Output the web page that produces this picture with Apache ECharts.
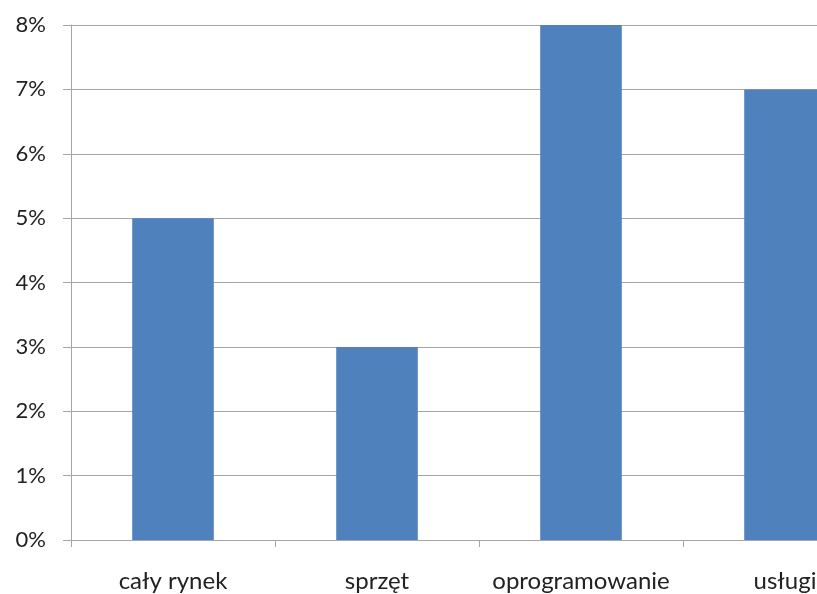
<!DOCTYPE html>
<html>
<head>
<meta charset="utf-8">
<script src="https://cdn.jsdelivr.net/npm/echarts@6/dist/echarts.min.js"></script>
<style>
  html, body { margin: 0; padding: 0; background: #fff; overflow: hidden; width: 817px; height: 594px; }
  /* the canvas is wider than the page, so the last category is cut at the right edge */
  #chart { width: 888px; height: 594px; }
</style>
</head>
<body>
<div id="chart"></div>
<script>
// Growth by market segment, in percent
const categories = ['cały rynek', 'sprzęt', 'oprogramowanie', 'usługi'];
const growth = [5, 3, 8, 7];
const yTicks = [0, 1, 2, 3, 4, 5, 6, 7, 8];

const FONT = 'Lato, "Open Sans", sans-serif';
const LINE = '#a6a6a6';

const chart = echarts.init(document.getElementById('chart'), null, { renderer: 'canvas' });
chart.setOption({
  animation: false,
  backgroundColor: '#ffffff',
  grid: { left: 71, top: 25, bottom: 54, right: 1, containLabel: false, outerBoundsMode: 'none' },
  xAxis: {
    type: 'category',
    data: categories,
    boundaryGap: true,
    axisLine: { show: true, lineStyle: { color: LINE, width: 1 } },
    axisTick: { show: true, length: 7, alignWithLabel: false, lineStyle: { color: LINE } },
    axisLabel: { color: '#222', fontFamily: FONT, fontSize: 24, margin: 29, interval: 0 },
    splitLine: { show: false }
  },
  yAxis: {
    type: 'value',
    min: yTicks[0],
    max: yTicks[yTicks.length - 1],
    interval: 1,
    axisLine: { show: true, lineStyle: { color: LINE, width: 1 } },
    axisTick: { show: true, length: 8, inside: false, lineStyle: { color: LINE } },
    axisLabel: { color: '#222', fontFamily: FONT, fontSize: 22, margin: 25, formatter: v => v + '%' },
    splitLine: { show: true, lineStyle: { color: LINE, width: 1 } }
  },
  series: [{
    type: 'bar',
    data: growth,
    barWidth: '40%',
    itemStyle: { color: '#4f81bd' }
  }]
});
</script>
</body>
</html>
